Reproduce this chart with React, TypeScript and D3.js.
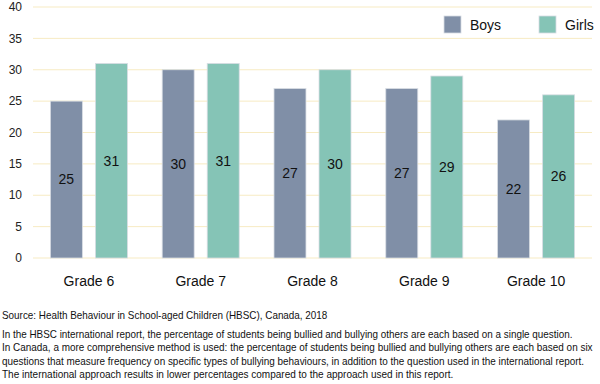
import { useEffect, useRef } from 'react';
import * as d3 from 'd3';

const grades = ['Grade 6', 'Grade 7', 'Grade 8', 'Grade 9', 'Grade 10'];
const series = ['Boys', 'Girls'];
const boys = [25, 30, 27, 27, 22];
const girls = [31, 31, 30, 29, 26];
const yTicks = [0, 5, 10, 15, 20, 25, 30, 35, 40];
const source = 'Source: Health Behaviour in School-aged Children (HBSC), Canada, 2018';
const notes = [
  'In the HBSC international report, the percentage of students being bullied and bullying others are each based on a single question.',
  'In Canada, a more comprehensive method is used: the percentage of students being bullied and bullying others are each based on six',
  'questions that measure frequency on specific types of bullying behaviours, in addition to the question used in the international report.',
  'The international approach results in lower percentages compared to the approach used in this report.',
];
// approximate rendered widths of the footer lines in the reference
const noteWidths = [571, 591, 583, 452];

const colors = ['#808fa7', '#85c4b6'];

export default function App() {
  const svgRef = useRef<SVGSVGElement>(null);

  useEffect(() => {
    if (!svgRef.current) return;
    const width = 600;
    const height = 384;
    const margin = { top: 7, right: 8, bottom: 126, left: 33 };
    const innerW = width - margin.left - margin.right;
    const innerH = height - margin.top - margin.bottom;

    const svg = d3.select(svgRef.current);
    svg.selectAll('*').remove();
    svg.attr('width', width).attr('height', height)
      .style('font-family', 'Liberation Sans, Arial, sans-serif');

    const g = svg.append('g').attr('transform', `translate(${margin.left},${margin.top})`);

    const y = d3.scaleLinear().domain([0, 40]).range([innerH, 0]);
    const x0 = d3.scaleBand().domain(grades).range([0, innerW]);
    const groupW = 77;
    const x1 = d3.scaleBand().domain(series).range([0, groupW]).paddingInner(0.29);

    g.selectAll('.grid')
      .data(yTicks)
      .join('line')
      .attr('x1', 0)
      .attr('x2', innerW)
      .attr('y1', d => y(d))
      .attr('y2', d => y(d))
      .attr('stroke', '#f7ebc3')
      .attr('stroke-width', 1);

    g.selectAll('.ytick')
      .data(yTicks)
      .join('text')
      .attr('x', -11)
      .attr('y', d => y(d))
      .attr('dy', '0.35em')
      .attr('text-anchor', 'end')
      .style('font-size', '12px')
      .style('fill', '#222')
      .text(d => d);

    const rows = grades.map((gr, i) => ({ grade: gr, values: [boys[i], girls[i]] }));

    const groups = g.selectAll('.grp')
      .data(rows)
      .join('g')
      .attr('transform', d => `translate(${(x0(d.grade) || 0) + (x0.bandwidth() - groupW) / 2},0)`);

    groups.selectAll('rect')
      .data(d => d.values.map((v, k) => ({ s: series[k], v, k })))
      .join('rect')
      .attr('x', d => x1(d.s) || 0)
      .attr('y', d => y(d.v))
      .attr('width', x1.bandwidth())
      .attr('height', d => innerH - y(d.v))
      .attr('fill', d => colors[d.k])
      .attr('stroke', '#d8dde3')
      .attr('stroke-width', 0.8);

    groups.selectAll('.val')
      .data(d => d.values.map((v, k) => ({ s: series[k], v, k })))
      .join('text')
      .attr('x', d => (x1(d.s) || 0) + x1.bandwidth() / 2)
      .attr('y', d => y(d.v / 2))
      .attr('dy', '0.35em')
      .attr('text-anchor', 'middle')
      .style('font-size', '14px')
      .style('fill', '#111')
      .text(d => d.v);

    g.selectAll('.xlab')
      .data(grades)
      .join('text')
      .attr('x', d => (x0(d) || 0) + x0.bandwidth() / 2)
      .attr('y', innerH + 23)
      .attr('dy', '0.35em')
      .attr('text-anchor', 'middle')
      .style('font-size', '14px')
      .style('fill', '#111')
      .text(d => d);

    // legend
    const legendX = [444, 539];
    series.forEach((s, k) => {
      svg.append('rect')
        .attr('x', legendX[k])
        .attr('y', 16)
        .attr('width', 17)
        .attr('height', 17)
        .attr('fill', colors[k])
        .attr('stroke', '#d8dde3')
        .attr('stroke-width', 0.8);
      svg.append('text')
        .attr('x', legendX[k] + 26)
        .attr('y', 25)
        .attr('dy', '0.35em')
        .style('font-size', '14px')
        .style('fill', '#111')
        .text(s);
    });

    // footer: squeeze each line horizontally to the reference width
    const footer = [source, ...notes];
    const footerW = [326, ...noteWidths];
    const footerY = [315, 334, 347.5, 361, 374.5];
    footer.forEach((line, i) => {
      const t = svg.append('text')
        .attr('x', 0)
        .attr('y', 0)
        .attr('dy', '0.35em')
        .style('font-size', '10.5px')
        .style('fill', '#111')
        .text(line);
      const natural = (t.node() as SVGTextElement).getComputedTextLength() || footerW[i];
      const sx = footerW[i] / natural;
      t.attr('transform', `translate(2,${footerY[i]}) scale(${sx},1)`);
    });
  }, []);

  return (
    <div>
      <svg ref={svgRef} style={{ position: 'absolute', left: 0, top: 0 }}></svg>
    </div>
  );
}
